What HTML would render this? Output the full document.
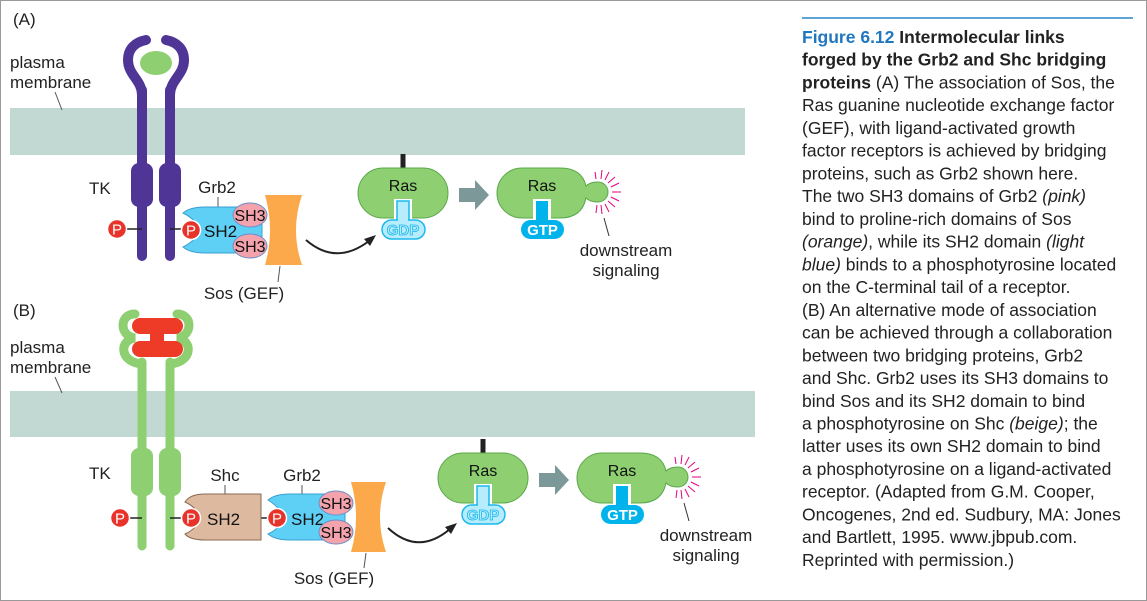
<!DOCTYPE html>
<html><head><meta charset="utf-8"><style>
html,body{margin:0;padding:0;background:#fff}
svg{display:block;font-family:"Liberation Sans",sans-serif}
</style></head><body>
<svg width="1147" height="601" viewBox="0 0 1147 601" xmlns="http://www.w3.org/2000/svg">
<defs>
<g id="ras">
  <line x1="45" y1="-14" x2="45" y2="2" stroke="#222" stroke-width="5"/>
  <rect x="0" y="0" width="90" height="50" rx="25" fill="#8dcf71" stroke="#5aa84a" stroke-width="1"/>
  <rect x="36" y="31" width="18" height="24" fill="#fff"/>
  <rect x="39" y="33" width="12" height="22" fill="#b6ecfb" stroke="#1cb8ee" stroke-width="1.5"/>
  <rect x="24" y="52" width="43" height="19" rx="9.5" fill="#b6ecfb" stroke="#1cb8ee" stroke-width="1.5"/>
  <rect x="40" y="50" width="10" height="5" fill="#b6ecfb"/>
  <text x="45" y="67" text-anchor="middle" font-size="15" font-weight="bold" fill="#b6ecfb" stroke="#1cb8ee" stroke-width="0.8">GDP</text>
  <text x="45" y="23" text-anchor="middle" font-size="16" fill="#111">Ras</text>
  <polygon points="101,20 117,20 117,12 131,27 117,42 117,34 101,34" fill="#7d9898"/>
  <path d="M164,0 L202,0 Q224,0 228,18 Q232,14 240,14 A10,10 0 1 1 240,34 Q232,34 228,30 Q224,50 202,50 L164,50 A25,25 0 0 1 164,0 Z" fill="#8dcf71" stroke="#5aa84a" stroke-width="1"/>
  <rect x="175" y="31" width="18" height="24" fill="#fff"/>
  <rect x="178" y="33" width="12" height="22" fill="#00b3ea"/>
  <rect x="163" y="52" width="43" height="19" rx="9.5" fill="#00b3ea"/>
  <text x="184.5" y="67" text-anchor="middle" font-size="15" font-weight="bold" fill="#fff">GTP</text>
  <text x="184" y="23" text-anchor="middle" font-size="16" fill="#111">Ras</text>
  <g stroke="#e6007e" stroke-width="1" transform="translate(241,24)">
    <line x1="2" y1="-13" x2="3" y2="-22"/><line x1="6" y1="-12" x2="10" y2="-20"/><line x1="9" y1="-9" x2="16" y2="-15"/>
    <line x1="12" y1="-5" x2="20" y2="-9"/><line x1="13" y1="0" x2="22" y2="0"/><line x1="12" y1="5" x2="20" y2="9"/>
    <line x1="9" y1="9" x2="16" y2="15"/><line x1="6" y1="12" x2="10" y2="20"/><line x1="2" y1="13" x2="3" y2="22"/>
    <line x1="-2" y1="13" x2="-3" y2="21"/><line x1="-3" y1="-13" x2="-4" y2="-20"/>
  </g>
  <line x1="246" y1="50" x2="251" y2="68" stroke="#333" stroke-width="1"/>
  <text x="268" y="88" text-anchor="middle" font-size="17" fill="#222">downstream</text>
  <text x="268" y="108" text-anchor="middle" font-size="17" fill="#222">signaling</text>
</g>
<g id="pp">
  <circle r="9.5" fill="#e8332a" stroke="#fff" stroke-width="1.5"/>
  <text y="5.5" text-anchor="middle" font-size="15" fill="#fff">P</text>
</g>
</defs>
<rect x="0.5" y="0.5" width="1146" height="600" fill="#fff" stroke="#999"/>

<!-- Panel A -->
<text x="13" y="25" font-size="17" fill="#222">(A)</text>
<text x="10" y="68" font-size="17" fill="#222">plasma</text>
<text x="10" y="88" font-size="17" fill="#222">membrane</text>
<rect x="10" y="108" width="735" height="47" fill="#c1d9d2"/>
<line x1="55" y1="92" x2="62" y2="110" stroke="#555" stroke-width="1"/>
<g stroke="#4f3596" stroke-width="10" fill="none" stroke-linecap="round">
  <path d="M142,95 C142,80 128,75 128,60 C128,48 136,42 146,40"/>
  <path d="M170,95 C170,80 184,75 184,60 C184,48 176,42 166,40"/>
  <line x1="142" y1="90" x2="142" y2="256"/>
  <line x1="170" y1="90" x2="170" y2="256"/>
</g>
<rect x="131" y="163" width="22" height="44" rx="8" fill="#4f3596"/>
<rect x="159" y="163" width="22" height="44" rx="8" fill="#4f3596"/>
<ellipse cx="156" cy="63" rx="16" ry="12" fill="#8dcf71"/>
<text x="89" y="194" font-size="17" fill="#222">TK</text>
<line x1="120" y1="229" x2="142" y2="229" stroke="#222" stroke-width="1.5"/>
<line x1="170" y1="229" x2="188" y2="229" stroke="#222" stroke-width="1.5"/>
<use href="#pp" x="117" y="229"/>
<text x="217" y="193" text-anchor="middle" font-size="17" fill="#222">Grb2</text>
<line x1="218" y1="197" x2="218" y2="208" stroke="#555"/>
<path d="M183,213 Q190,207 205,207 L262,207 L262,253 L205,253 Q190,253 183,247 Q197,240 199,230 Q197,220 183,213 Z" fill="#5fd0f5" stroke="#3aa0d0"/>
<use href="#pp" x="191" y="230"/>
<text x="204" y="237" font-size="17" fill="#111">SH2</text>
<path d="M265,195 L302,195 Q290,230 302,265 L265,265 Q275,230 265,195 Z" fill="#fba94a"/>
<ellipse cx="250" cy="215" rx="17" ry="12" fill="#f4a3ad" stroke="#6a8fc8"/>
<ellipse cx="250" cy="246" rx="17" ry="12" fill="#f4a3ad" stroke="#6a8fc8"/>
<text x="250" y="221" text-anchor="middle" font-size="16" fill="#111">SH3</text>
<text x="250" y="252" text-anchor="middle" font-size="16" fill="#111">SH3</text>
<line x1="280" y1="266" x2="278" y2="282" stroke="#555"/>
<text x="244" y="299" text-anchor="middle" font-size="17" fill="#222">Sos (GEF)</text>
<path d="M306,240 Q336,266 369,241" stroke="#222" stroke-width="2" fill="none"/>
<polygon points="376,235 364,239 370,246" fill="#222"/>
<use href="#ras" x="358" y="168"/>

<!-- Panel B -->
<text x="13" y="316" font-size="17" fill="#222">(B)</text>
<text x="10" y="353" font-size="17" fill="#222">plasma</text>
<text x="10" y="373" font-size="17" fill="#222">membrane</text>
<rect x="10" y="391" width="745" height="46" fill="#c1d9d2"/>
<line x1="55" y1="377" x2="62" y2="393" stroke="#555" stroke-width="1"/>
<g stroke="#8dcf71" stroke-width="9" fill="none" stroke-linecap="round">
  <path d="M135,314 C119,314 119,336 135,338 C119,340 119,362 142,364"/>
  <path d="M177,314 C193,314 193,336 177,338 C193,340 193,362 170,364"/>
  <line x1="142" y1="362" x2="142" y2="546"/>
  <line x1="170" y1="362" x2="170" y2="546"/>
</g>
<rect x="131" y="448" width="22" height="48" rx="8" fill="#8dcf71"/>
<rect x="159" y="448" width="22" height="48" rx="8" fill="#8dcf71"/>
<rect x="132" y="318" width="51" height="16" rx="8" fill="#ee3b28"/>
<rect x="132" y="341" width="51" height="16" rx="8" fill="#ee3b28"/>
<rect x="150" y="330" width="14" height="14" fill="#ee3b28"/>
<text x="89" y="479" font-size="17" fill="#222">TK</text>
<line x1="122" y1="518" x2="142" y2="518" stroke="#222" stroke-width="1.5"/>
<line x1="170" y1="518" x2="188" y2="518" stroke="#222" stroke-width="1.5"/>
<line x1="260" y1="518" x2="275" y2="518" stroke="#222" stroke-width="1.5"/>
<use href="#pp" x="120" y="518"/>
<text x="225" y="481" text-anchor="middle" font-size="17" fill="#222">Shc</text>
<line x1="225" y1="485" x2="225" y2="495" stroke="#555"/>
<path d="M185,502 Q190,494 205,494 L261,494 L261,540 L205,540 Q190,540 185,534 Q198,528 199,518 Q198,508 185,502 Z" fill="#ddb9a0" stroke="#8b6a55"/>
<use href="#pp" x="191" y="518"/>
<text x="207" y="525" font-size="17" fill="#111">SH2</text>
<text x="302" y="481" text-anchor="middle" font-size="17" fill="#222">Grb2</text>
<line x1="302" y1="485" x2="302" y2="495" stroke="#555"/>
<path d="M268,500 Q275,494 290,494 L345,494 L345,540 L290,540 Q275,540 268,534 Q281,528 283,518 Q281,508 268,500 Z" fill="#5fd0f5" stroke="#3aa0d0"/>
<use href="#pp" x="277" y="518"/>
<text x="291" y="525" font-size="17" fill="#111">SH2</text>
<path d="M351,482 L386,482 Q374,517 386,552 L351,552 Q361,517 351,482 Z" fill="#fba94a"/>
<ellipse cx="336" cy="503" rx="17" ry="12" fill="#f4a3ad" stroke="#6a8fc8"/>
<ellipse cx="336" cy="532" rx="17" ry="12" fill="#f4a3ad" stroke="#6a8fc8"/>
<text x="336" y="509" text-anchor="middle" font-size="16" fill="#111">SH3</text>
<text x="336" y="538" text-anchor="middle" font-size="16" fill="#111">SH3</text>
<line x1="366" y1="553" x2="364" y2="568" stroke="#555"/>
<text x="334" y="584" text-anchor="middle" font-size="17" fill="#222">Sos (GEF)</text>
<path d="M388,528 Q418,556 450,529" stroke="#222" stroke-width="2" fill="none"/>
<polygon points="457,523 445,527 451,534" fill="#222"/>
<use href="#ras" x="438" y="453"/>

<!-- Caption -->
<line x1="802" y1="18" x2="1133" y2="18" stroke="#2a86c8" stroke-width="1.5"/>
<g font-size="17.5" fill="#222">
<text x="802" y="43"><tspan fill="#1f77c0" font-weight="bold">Figure 6.12</tspan><tspan font-weight="bold"> Intermolecular links</tspan></text>
<text x="802" y="65.7" font-weight="bold">forged by the Grb2 and Shc bridging</text>
<text x="802" y="88.5"><tspan font-weight="bold">proteins</tspan> (A) The association of Sos, the</text>
<text x="802" y="111.2">Ras guanine nucleotide exchange factor</text>
<text x="802" y="134">(GEF), with ligand-activated growth</text>
<text x="802" y="156.7">factor receptors is achieved by bridging</text>
<text x="802" y="179.4">proteins, such as Grb2 shown here.</text>
<text x="802" y="202.2">The two SH3 domains of Grb2 <tspan font-style="italic">(pink)</tspan></text>
<text x="802" y="224.9">bind to proline-rich domains of Sos</text>
<text x="802" y="247.6"><tspan font-style="italic">(orange)</tspan>, while its SH2 domain <tspan font-style="italic">(light</tspan></text>
<text x="802" y="270.4"><tspan font-style="italic">blue)</tspan> binds to a phosphotyrosine located</text>
<text x="802" y="293.1">on the C-terminal tail of a receptor.</text>
<text x="802" y="315.8">(B) An alternative mode of association</text>
<text x="802" y="338.6">can be achieved through a collaboration</text>
<text x="802" y="361.3">between two bridging proteins, Grb2</text>
<text x="802" y="384">and Shc. Grb2 uses its SH3 domains to</text>
<text x="802" y="406.8">bind Sos and its SH2 domain to bind</text>
<text x="802" y="429.5">a phosphotyrosine on Shc <tspan font-style="italic">(beige)</tspan>; the</text>
<text x="802" y="452.2">latter uses its own SH2 domain to bind</text>
<text x="802" y="475">a phosphotyrosine on a ligand-activated</text>
<text x="802" y="497.7">receptor. (Adapted from G.M. Cooper,</text>
<text x="802" y="520.4">Oncogenes, 2nd ed. Sudbury, MA: Jones</text>
<text x="802" y="543.2">and Bartlett, 1995. www.jbpub.com.</text>
<text x="802" y="566">Reprinted with permission.)</text>
</g>
</svg>
</body></html>
